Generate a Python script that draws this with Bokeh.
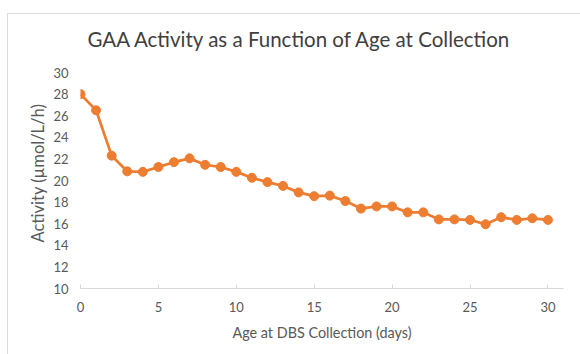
from bokeh.plotting import figure
from bokeh.models import Range1d, FixedTicker, Title
from bokeh.embed import file_html
from bokeh.resources import INLINE

age_days = list(range(0, 31))
activity = [28.0, 26.5, 22.3, 20.85, 20.8, 21.25, 21.7, 22.05, 21.45, 21.25,
            20.8, 20.25, 19.85, 19.5, 18.9, 18.55, 18.6, 18.1, 17.4, 17.6,
            17.6, 17.05, 17.05, 16.4, 16.4, 16.35, 15.95, 16.6, 16.35, 16.5, 16.35]
x_ticks = [0, 5, 10, 15, 20, 25, 30]
y_ticks = [10, 12, 14, 16, 18, 20, 22, 24, 26, 28, 30]
title_text = "GAA Activity as a Function of Age at Collection"
x_title = "Age at DBS Collection (days)"
y_title = "Activity (µmol/L/h)"

FONT = "Lato"
ORANGE = "#ED7D31"
EDGE = "#d9d9d9"

p = figure(width=580, height=354, output_backend="svg", toolbar_location=None,
           x_range=Range1d(0, 31), y_range=Range1d(10, 30),
           min_border_left=80, min_border_right=17, min_border_top=72, min_border_bottom=66)
# chart-area border (left and top edges), drawn behind a transparent canvas
p.border_fill_color = None
p.background_fill_color = None
p.styles = {"background": (f"linear-gradient({EDGE}, {EDGE}) 7px 13px / 1px 341px no-repeat, "
                           f"linear-gradient({EDGE}, {EDGE}) 7px 13px / 573px 1px no-repeat, #ffffff")}
p.outline_line_color = None
p.xgrid.grid_line_color = None
p.ygrid.grid_line_color = None

p.add_layout(Title(text=title_text, align="left", offset=7, vertical_align="bottom",
                   text_font=FONT, text_font_size="20.5px", text_font_style="normal",
                   text_color="#404040", standoff=44), "above")
p.add_layout(Title(text=y_title, align="left", offset=46, vertical_align="bottom",
                   text_font=FONT, text_font_size="16.5px", text_font_style="normal",
                   text_color="#595959", standoff=6), "left")

p.line(age_days, activity, line_color=ORANGE, line_width=2.75)
p.scatter(age_days, activity, size=9, fill_color=ORANGE, line_color=ORANGE)

xa = p.xaxis[0]
xa.ticker = FixedTicker(ticks=x_ticks)
xa.minor_tick_line_color = None
xa.axis_line_color = EDGE
xa.major_tick_line_color = EDGE
xa.major_tick_in = 4
xa.major_tick_out = 0
xa.major_label_standoff = 13
xa.major_label_text_font = FONT
xa.major_label_text_font_size = "13px"
xa.major_label_text_color = "#595959"
xa.axis_label = x_title
xa.axis_label_text_font = FONT
xa.axis_label_text_font_size = "14.4px"
xa.axis_label_text_font_style = "normal"
xa.axis_label_text_color = "#595959"
xa.axis_label_standoff = 9

ya = p.yaxis[0]
ya.ticker = FixedTicker(ticks=y_ticks)
ya.minor_tick_line_color = None
ya.axis_line_color = None
ya.major_tick_line_color = None
ya.major_tick_in = 0
ya.major_tick_out = 0
ya.major_label_standoff = 12
ya.major_label_text_font = FONT
ya.major_label_text_font_size = "13px"
ya.major_label_text_color = "#595959"

open("out.html", "w").write(file_html(p, INLINE))
